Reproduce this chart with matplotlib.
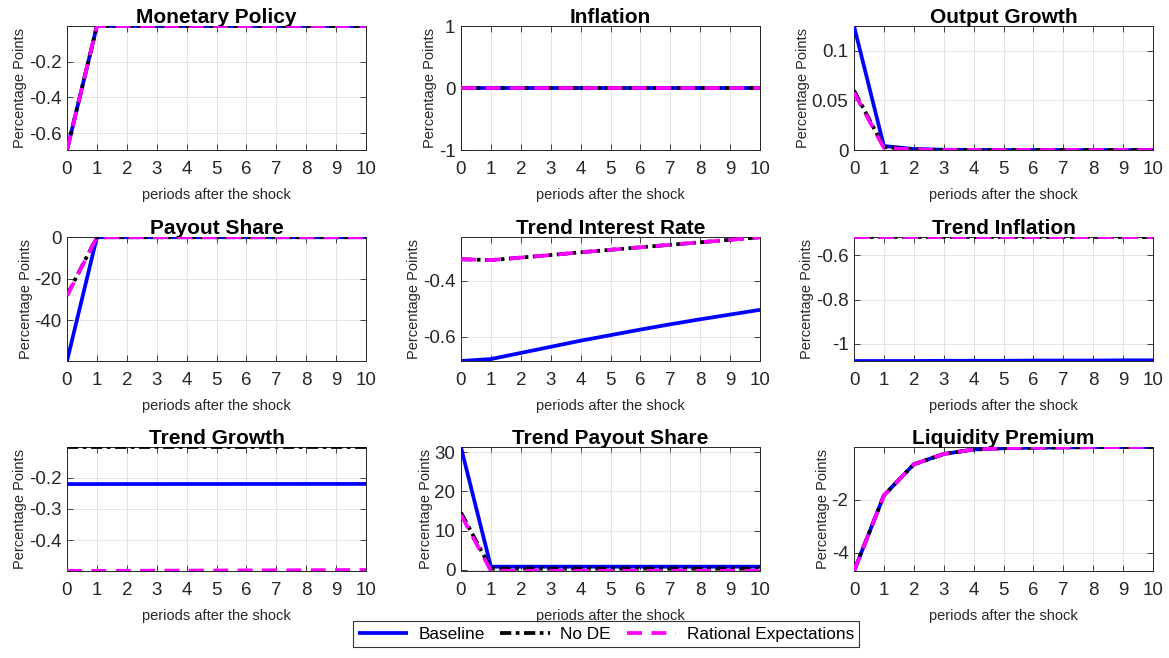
import numpy as np
import matplotlib
matplotlib.use("Agg")
import matplotlib.pyplot as plt

plt.rcParams['font.family'] = ['Liberation Sans', 'DejaVu Sans']

periods = np.arange(11)

titles = ["Monetary Policy", "Inflation", "Output Growth",
          "Payout Share", "Trend Interest Rate", "Trend Inflation",
          "Trend Growth", "Trend Payout Share", "Liquidity Premium"]

# baseline / no diagnostic expectations / rational expectations
mp_base = [-0.693, -0.001, -0.001, -0.001, -0.001, -0.001, -0.001, -0.001, -0.001, -0.001, -0.001]
mp_node = mp_base
mp_re = mp_base

inf_base = [0.0] * 11
inf_node = inf_base
inf_re = inf_base

og_base = [0.125, 0.004, 0.001, 0.0003, 0.0001, 0, 0, 0, 0, 0, 0]
og_node = [0.060, 0.003, 0.0005, 0.0001, 0, 0, 0, 0, 0, 0, 0]
og_re = [0.058, 0.002, 0.0004, 0.0001, 0, 0, 0, 0, 0, 0, 0]

ps_base = [-59.7, -0.1, -0.1, -0.1, -0.1, -0.1, -0.1, -0.1, -0.1, -0.1, -0.1]
ps_node = [-28.0, -0.1, -0.1, -0.1, -0.1, -0.1, -0.1, -0.1, -0.1, -0.1, -0.1]
ps_re = [-28.3, -0.1, -0.1, -0.1, -0.1, -0.1, -0.1, -0.1, -0.1, -0.1, -0.1]

tir_base = [-0.688, -0.681, -0.659, -0.637, -0.615, -0.595, -0.575, -0.556, -0.538, -0.521, -0.504]
tir_node = [-0.322, -0.325, -0.316, -0.307, -0.297, -0.288, -0.279, -0.270, -0.261, -0.252, -0.243]
tir_re = tir_node

ti_base = [-1.078, -1.078, -1.078, -1.077, -1.077, -1.077, -1.076, -1.076, -1.076, -1.075, -1.075]
ti_node = [-0.518] * 11
ti_re = ti_node

tg_base = [-0.2205, -0.2205, -0.2204, -0.2204, -0.2203, -0.2203, -0.2202, -0.2202, -0.2201, -0.2201, -0.2200]
tg_node = [-0.1018] * 11
tg_re = [-0.4992, -0.4989, -0.4986, -0.4983, -0.4980, -0.4977, -0.4974, -0.4971, -0.4968, -0.4965, -0.4962]

tps_base = [31.2, 0.8, 0.8, 0.8, 0.8, 0.8, 0.8, 0.8, 0.8, 0.8, 0.8]
tps_node = [14.6, 0.3, 0.3, 0.3, 0.3, 0.3, 0.3, 0.3, 0.3, 0.3, 0.3]
tps_re = [14.0, -0.25, -0.25, -0.25, -0.25, -0.25, -0.25, -0.25, -0.25, -0.25, -0.25]

lp_base = [-4.70, -1.84, -0.66, -0.27, -0.10, -0.05, -0.03, -0.02, -0.01, -0.01, -0.005]
lp_node = lp_base
lp_re = lp_base

series = [(mp_base, mp_node, mp_re), (inf_base, inf_node, inf_re), (og_base, og_node, og_re),
          (ps_base, ps_node, ps_re), (tir_base, tir_node, tir_re), (ti_base, ti_node, ti_re),
          (tg_base, tg_node, tg_re), (tps_base, tps_node, tps_re), (lp_base, lp_node, lp_re)]

ylims = [(-0.693, -0.001), (-1, 1), (0, 0.125),
         (-59.7, 0), (-0.688, -0.242), (-1.078, -0.517),
         (-0.4994, -0.1016), (-0.3, 31.3), (-4.70, -0.005)]
yticks = [[-0.6, -0.4, -0.2], [-1, 0, 1], [0, 0.05, 0.1],
          [-40, -20, 0], [-0.6, -0.4], [-1, -0.8, -0.6],
          [-0.4, -0.3, -0.2], [0, 10, 20, 30], [-4, -2]]
ytick_labels = [["-0.6", "-0.4", "-0.2"], ["-1", "0", "1"], ["0", "0.05", "0.1"],
                ["-40", "-20", "0"], ["-0.6", "-0.4"], ["-1", "-0.8", "-0.6"],
                ["-0.4", "-0.3", "-0.2"], ["0", "10", "20", "30"], ["-4", "-2"]]

W, H = 1169, 658
col_left = [67, 461, 854]
row_top = [26, 237, 447]
ax_w, ax_h = 299, 124
dark = (0.15, 0.15, 0.15)

fig = plt.figure(figsize=(W / 100, H / 100), dpi=100)

handles = None
for i in range(9):
    r, c = divmod(i, 3)
    ax = fig.add_axes([col_left[c] / W, 1 - (row_top[r] + ax_h) / H, ax_w / W, ax_h / H])
    base, node, re_ = series[i]
    h1, = ax.plot(periods, base, color='blue', lw=2.7, solid_capstyle='butt', zorder=3)
    h2, = ax.plot(periods, node, color='black', lw=2.7, linestyle=(0, (3, 1.2, 1, 1.2)), zorder=4)
    h3, = ax.plot(periods, re_, color='magenta', lw=2.7, linestyle=(0, (4, 2.5)), zorder=5)
    handles = [h1, h2, h3]
    ax.set_xlim(0, 10)
    ax.set_ylim(*ylims[i])
    ax.set_xticks(periods)
    ax.set_yticks(yticks[i])
    ax.set_yticklabels(ytick_labels[i])
    ax.tick_params(direction='in', length=4, width=0.6, labelsize=13.5, colors=dark,
                   top=True, right=True, pad=4)
    ax.tick_params(axis='x', pad=8)
    for s in ax.spines.values():
        s.set_color(dark)
        s.set_linewidth(0.7)
    ax.grid(True, color=(0.87, 0.87, 0.87), lw=0.6)
    ax.set_axisbelow(True)
    ax.set_title(titles[i], fontsize=15, fontweight='bold', pad=2)
    ax.set_xlabel("periods after the shock", fontsize=10.5, color=dark, labelpad=7)
    ax.set_ylabel("Percentage Points", fontsize=10.5, color=dark, labelpad=1)

leg = fig.legend(handles, ["Baseline", "No DE", "Rational Expectations"],
                 loc='center', bbox_to_anchor=(606 / W, 1 - 634 / H), ncol=3,
                 fontsize=12.4, frameon=True, fancybox=False, handlelength=2.9,
                 handletextpad=0.6, columnspacing=0.9, borderpad=0.3)
leg.get_frame().set_edgecolor('black')
leg.get_frame().set_linewidth(0.8)

fig.savefig("out.png", dpi=100)
